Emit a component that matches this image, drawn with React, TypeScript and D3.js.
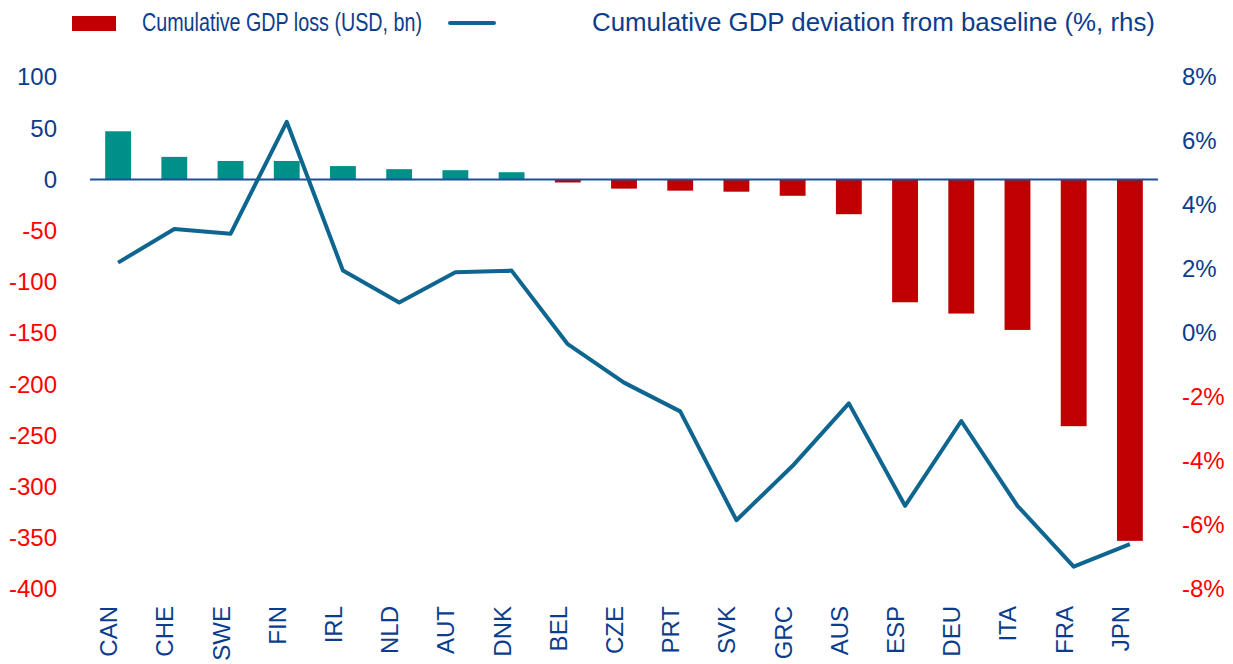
import React from 'react';
import * as d3 from 'd3';

const countries = ['CAN', 'CHE', 'SWE', 'FIN', 'IRL', 'NLD', 'AUT', 'DNK', 'BEL', 'CZE', 'PRT', 'SVK', 'GRC', 'AUS', 'ESP', 'DEU', 'ITA', 'FRA', 'JPN'];
const gdpLoss = [47, 22, 18, 18, 13, 10, 9, 7, -3, -9, -11, -12, -16, -34, -120, -131, -147, -241, -353];
const gdpDeviation = [2.2, 3.25, 3.1, 6.6, 1.95, 0.95, 1.9, 1.95, -0.35, -1.55, -2.45, -5.85, -4.15, -2.2, -5.4, -2.75, -5.4, -7.3, -6.6];
const leftTicks = [100, 50, 0, -50, -100, -150, -200, -250, -300, -350, -400];
const rightTicks = [8, 6, 4, 2, 0, -2, -4, -6, -8];

const width = 1233;
const height = 664;
const font = '"Liberation Sans", Arial, sans-serif';
const blueText = '#0B3D8C';
const redText = '#FF0000';

export default function App() {
  const x = d3.scaleBand<string>()
    .domain(countries)
    .range([90, 1158])
    .paddingInner(0.54)
    .paddingOuter(0.27);

  const yLeft = d3.scaleLinear().domain([-400, 100]).range([589, 77]);
  const yRight = d3.scaleLinear().domain([-8, 8]).range([589, 77]);

  const line = d3.line<number>()
    .x((_, i) => (x(countries[i]) ?? 0) + x.bandwidth() / 2)
    .y(d => yRight(d));

  return (
    <svg width={width} height={height} style={{ position: 'absolute', left: 0, top: 0 }} fontFamily={font}>
      {/* legend */}
      <rect x={72} y={16} width={44} height={15} fill="#C00000" />
      <text x={142} y={31} fontSize={26} fill={blueText} textLength={280} lengthAdjust="spacingAndGlyphs">
        Cumulative GDP loss (USD, bn)
      </text>
      <line x1={450} x2={494} y1={23} y2={23} stroke="#0E6690" strokeWidth={4} strokeLinecap="round" />
      <text x={592} y={31} fontSize={26} fill={blueText} textLength={563} lengthAdjust="spacingAndGlyphs">
        Cumulative GDP deviation from baseline (%, rhs)
      </text>

      {/* bars */}
      {gdpLoss.map((v, i) => (
        <rect
          key={countries[i]}
          x={x(countries[i])}
          width={x.bandwidth()}
          y={yLeft(Math.max(0, v))}
          height={Math.abs(yLeft(v) - yLeft(0))}
          fill={v >= 0 ? '#00908A' : '#C00000'}
        />
      ))}

      {/* zero line */}
      <line x1={90} x2={1158} y1={yLeft(0)} y2={yLeft(0)} stroke="#1F4E99" strokeWidth={2} />

      {/* line series */}
      <path d={line(gdpDeviation) ?? ''} fill="none" stroke="#0E6690" strokeWidth={4} strokeLinejoin="round" />

      {/* left axis */}
      {leftTicks.map(t => (
        <text key={t} x={57} y={yLeft(t)} dy="0.35em" textAnchor="end" fontSize={24} fill={t >= 0 ? blueText : redText}>
          {t}
        </text>
      ))}

      {/* right axis */}
      {rightTicks.map(t => (
        <text key={t} x={1182} y={yRight(t)} dy="0.35em" textAnchor="start" fontSize={24} fill={t >= 0 ? blueText : redText}>
          {t}%
        </text>
      ))}

      {/* category labels */}
      {countries.map(c => {
        const cx = (x(c) ?? 0) + x.bandwidth() / 2;
        return (
          <text
            key={c}
            transform={`translate(${cx - 1},606) rotate(-90)`}
            textAnchor="end"
            fontSize={24}
            fill={blueText}
          >
            {c}
          </text>
        );
      })}
    </svg>
  );
}
